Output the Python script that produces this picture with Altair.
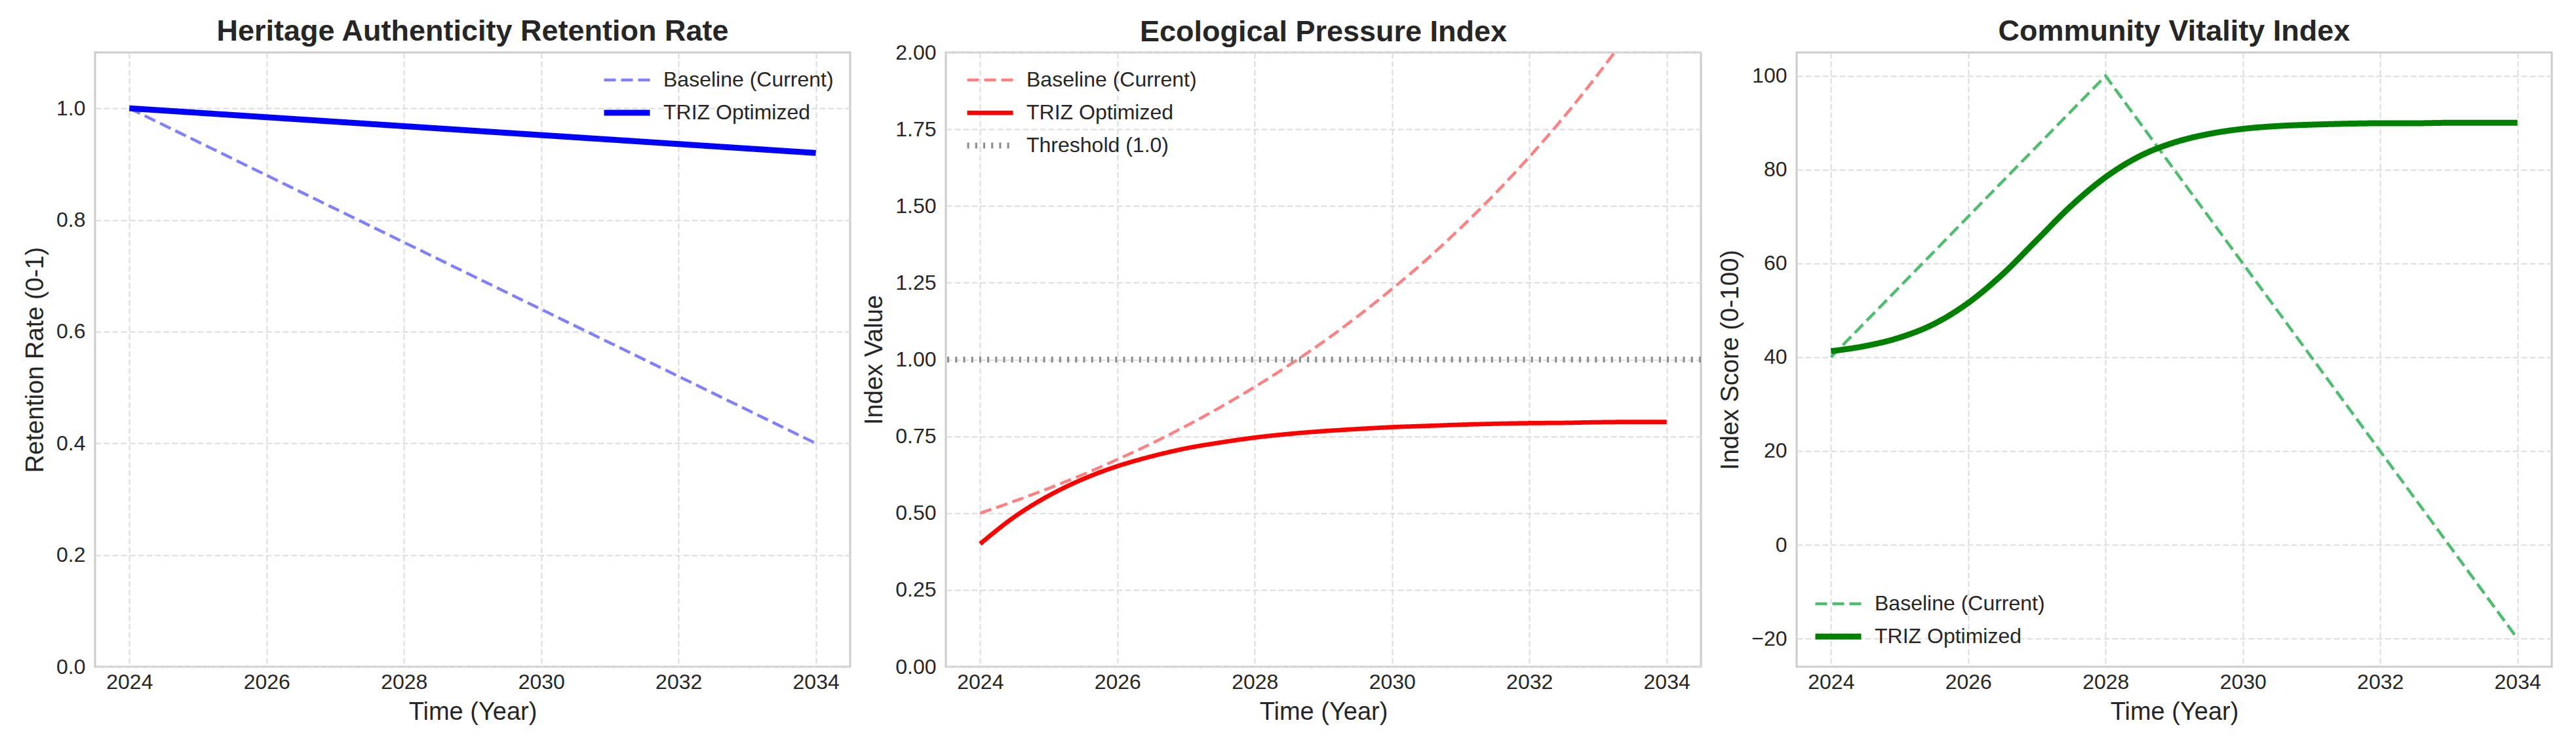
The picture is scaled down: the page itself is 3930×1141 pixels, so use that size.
import altair as alt
import pandas as pd

FONT = "Liberation Sans"
INK = "#262626"

# ---------------- data ----------------
YEARS_HALF = [2024.0, 2024.5, 2025.0, 2025.5, 2026.0, 2026.5, 2027.0, 2027.5,
              2028.0, 2028.5, 2029.0, 2029.5, 2030.0, 2030.5, 2031.0, 2031.5,
              2032.0, 2032.5, 2033.0, 2033.5, 2034.0]

# Panel 1: Heritage Authenticity Retention Rate
heritage_base_years = [2024, 2034]
heritage_base = [1.0, 0.4]
heritage_triz_years = [2024, 2025, 2026, 2027, 2028, 2029, 2030, 2031, 2032, 2033, 2034]
heritage_triz = [1.0, 0.992, 0.984, 0.976, 0.968, 0.960, 0.952, 0.944, 0.936, 0.928, 0.920]

# Panel 2: Ecological Pressure Index
eco_base = [0.500, 0.539, 0.581, 0.626, 0.675, 0.727, 0.784, 0.845, 0.911, 0.982,
            1.058, 1.141, 1.230, 1.325, 1.429, 1.540, 1.660, 1.789, 1.929, 2.079, 2.241]
eco_triz = [0.400, 0.488, 0.557, 0.611, 0.653, 0.685, 0.711, 0.730, 0.746, 0.758,
            0.767, 0.774, 0.780, 0.784, 0.788, 0.791, 0.793, 0.794, 0.796, 0.797, 0.797]
eco_threshold = [1.0]

# Panel 3: Community Vitality Index
comm_base_years = [2024, 2028, 2034]
comm_base = [40, 100, -20]
comm_triz = [41.3, 42.4, 44.2, 47.1, 51.6, 57.7, 65.0, 72.3, 78.4, 82.9,
             85.8, 87.6, 88.7, 89.3, 89.6, 89.8, 89.9, 89.9, 90.0, 90.0, 90.0]

SERIES = ["Baseline (Current)", "TRIZ Optimized", "Threshold (1.0)"]
X_TICKS = [2024, 2026, 2028, 2030, 2032, 2034]


def frame(years, values, name):
    return pd.DataFrame({"year": years, "value": values, "series": name})


def build_panel(title, title_offset, ytitle, ydomain, yticks, yfmt, layers, names,
                colors, dashes, widths, lx, ly):
    legend = alt.Legend(title=None, orient="none", legendX=lx, legendY=ly)
    enc = dict(
        x=alt.X("year:Q", title="Time (Year)",
                scale=alt.Scale(domain=[2023.5, 2034.5], nice=False, zero=False),
                axis=alt.Axis(values=X_TICKS, format="d")),
        y=alt.Y("value:Q", title=ytitle,
                scale=alt.Scale(domain=ydomain, nice=False, zero=False),
                axis=alt.Axis(values=yticks, format=yfmt)),
        color=alt.Color("series:N", scale=alt.Scale(domain=names, range=colors), legend=legend),
        strokeDash=alt.StrokeDash("series:N", scale=alt.Scale(domain=names, range=dashes), legend=legend),
        strokeWidth=alt.StrokeWidth("series:N", scale=alt.Scale(domain=names, range=widths), legend=legend),
    )
    charts = []
    for kind, df, interp in layers:
        if kind == "rule":
            charts.append(alt.Chart(df).mark_rule().encode(
                y=enc["y"], color=enc["color"], strokeDash=enc["strokeDash"],
                strokeWidth=enc["strokeWidth"]))
        else:
            charts.append(alt.Chart(df).mark_line(interpolate=interp, clip=True,
                                                  strokeCap="butt").encode(**enc))
    return alt.layer(*charts).properties(
        width=1152, height=937,
        title=alt.TitleParams(title, frame="group", offset=title_offset)
    )


p1 = build_panel(
    "Heritage Authenticity Retention Rate", 9, "Retention Rate (0-1)", [0, 1.1],
    [0, 0.2, 0.4, 0.6, 0.8, 1.0], ".1f",
    [("line", frame(heritage_base_years, heritage_base, SERIES[0]), "linear"),
     ("line", frame(heritage_triz_years, heritage_triz, SERIES[1]), "linear")],
    SERIES[:2], ["#8080ff", "#0000ff"], [[18, 8], [1, 0]], [4.5, 9],
    772, 26)

p2 = build_panel(
    "Ecological Pressure Index", -8, "Index Value", [0, 2.0],
    [0, 0.25, 0.5, 0.75, 1.0, 1.25, 1.5, 1.75, 2.0], ".2f",
    [("line", frame(YEARS_HALF, eco_base, SERIES[0]), "monotone"),
     ("line", frame(YEARS_HALF, eco_triz, SERIES[1]), "monotone"),
     ("rule", pd.DataFrame({"value": eco_threshold, "series": SERIES[2]}), None)],
    SERIES, ["#ff8080", "#ff0000", "#909090"], [[3.2, 9], [1, 0], [3.2, 9]][0:0] + [[18, 8], [1, 0], [3.2, 9]], [4.5, 9, 3.2],
    28, 26)

p3 = build_panel(
    "Community Vitality Index", 9, "Index Score (0-100)", [-26, 105],
    [-20, 0, 20, 40, 60, 80, 100], "d",
    [("line", frame(comm_base_years, comm_base, SERIES[0]), "linear"),
     ("line", frame(YEARS_HALF, comm_triz, SERIES[1]), "monotone")],
    SERIES[:2], ["#4dbd6e", "#008000"], [[18, 8], [1, 0]], [4.5, 9],
    24, 825)

chart = alt.hconcat(p1, p2, p3, spacing=146, bounds="flush").resolve_scale(
    color="independent", strokeDash="independent", strokeWidth="independent"
).resolve_legend(
    color="independent", strokeDash="independent", strokeWidth="independent"
).configure(
    padding={"left": 26, "top": 16, "right": 5, "bottom": 5},
    font=FONT,
).configure_view(
    stroke="#cccccc", strokeWidth=3, fill="white"
).configure_axis(
    labelFont=FONT, labelFontSize=32, labelColor=INK,
    titleFont=FONT, titleFontSize=38, titleColor=INK, titleFontWeight="normal",
    ticks=False, domain=False,
    grid=True, gridColor="#dcdcdc", gridWidth=2, gridDash=[9, 4],
).configure_axisY(
    labelPadding=15, titlePadding=12
).configure_axisX(
    labelPadding=8, titlePadding=11, labelFlush=False
).configure_title(
    font=FONT, fontSize=45, fontWeight="bold", color=INK, anchor="middle"
).configure_legend(
    labelFont=FONT, labelFontSize=32, labelColor=INK, labelLimit=800,
    symbolType="stroke", symbolSize=4900, labelOffset=16, clipHeight=32,
    rowPadding=18, padding=0
)

chart.save("out.html", embed_options={"renderer": "svg", "actions": False})
